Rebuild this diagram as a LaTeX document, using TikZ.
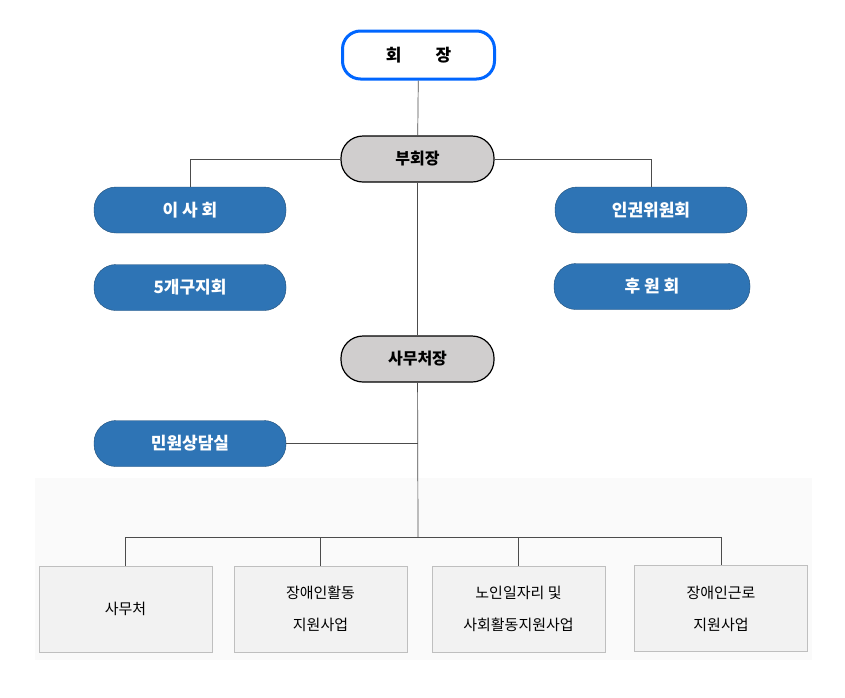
\documentclass[tikz,border=0pt]{standalone}
\usepackage{fontspec}
\newfontfamily\kr{Noto Sans CJK KR}
\begin{document}
\begin{tikzpicture}[x=1pt,y=-1pt,
 pill/.style={rounded corners=22pt,minimum height=46pt,inner sep=0pt,font=\kr\fontsize{17}{20}\selectfont\bfseries},
 blue/.style={pill,fill=blue!45!cyan!60!black!90,fill=blueN,draw=blueD,text=white,minimum width=192pt},
 gray/.style={pill,fill=grayN,draw=black,line width=1.2pt,minimum width=153pt,font=\kr\fontsize{16}{20}\selectfont\bfseries},
 box/.style={draw=boxD,fill=boxF,minimum width=173pt,minimum height=86pt,align=center,font=\kr\fontsize{15}{32}\selectfont},
 ln/.style={draw=black!70,line width=0.7pt}]
\definecolor{blueN}{HTML}{2E74B5}
\definecolor{blueD}{HTML}{1F4E79}
\definecolor{grayN}{HTML}{D0CECE}
\definecolor{boxF}{HTML}{F2F2F2}
\definecolor{boxD}{HTML}{BFBFBF}
\useasboundingbox (0,0) rectangle (845,697);
\fill[white] (0,0) rectangle (845,697);
\fill[black!2] (35,478) rectangle (812,660);
\node[pill,draw=blue!60!cyan,line width=3pt,fill=white,minimum width=152pt,minimum height=48pt,rounded corners=18pt] (hj) at (418.5,55) {회\hspace{2em}장};
\node[gray] (bhj) at (417.5,159) {부회장};
\node[gray] (sjj) at (417.5,359) {사무처장};
\node[blue] (ish) at (190,210) {이 사 회};
\node[blue] (gj) at (190,287.5) {5개구지회};
\node[blue] (ig) at (651,210) {인권위원회};
\node[blue,minimum width=196pt] (hw) at (652,286.5) {후 원 회};
\node[blue] (mw) at (190,443.5) {민원상담실};
\node[box] (b1) at (125.5,609) {사무처};
\node[box] (b2) at (320.5,609) {장애인활동\\지원사업};
\node[box] (b3) at (518.5,609) {노인일자리 및\\사회활동지원사업};
\node[box] (b4) at (721,608.5) {장애인근로\\지원사업};
\coordinate (j) at (418,537);
\draw[ln] (hj) -- (bhj);
\draw[ln] (bhj) -- (sjj);
\draw[ln] (bhj.west) -- (190,159) -- (ish);
\draw[ln] (bhj.east) -- (651,159) -- (ig);
\draw[ln] (sjj) -- (j);
\draw[ln] (mw.east) -- (418,443.5);
\draw[ln] (b1.north) -- (125.5,537) -- (721,537) -- (b4.north);
\draw[ln] (b2.north) -- (320.5,537);
\draw[ln] (b3.north) -- (518.5,537);
\end{tikzpicture}
\end{document}
